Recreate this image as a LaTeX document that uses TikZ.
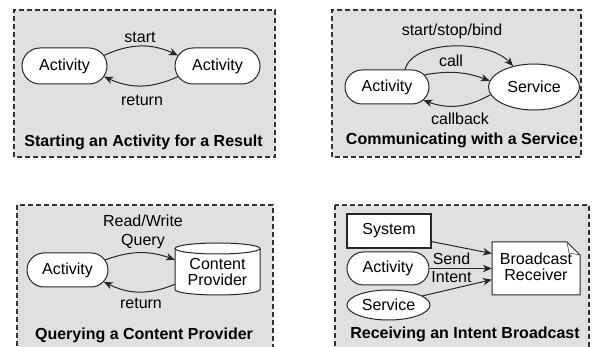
\documentclass[tikz,border=0pt]{standalone}
\usepackage{fontspec}
\setmainfont{Liberation Sans}
\usetikzlibrary{arrows.meta,shapes.misc,shapes.geometric}

\begin{document}
\begin{tikzpicture}[x=1pt, y=1pt,
	every node/.style={font=\fontsize{16}{16.5}\selectfont},
	panel/.style={draw=black!80, dash pattern=on 5pt off 3pt, line width=1.2pt, fill=black!12},
	actnode/.style={rounded rectangle, draw=black!85, line width=1pt, fill=white, inner sep=0pt},
	servnode/.style={ellipse, draw=black!85, line width=1pt, fill=white, inner sep=0pt},
	boxnode/.style={rectangle, draw=black!85, line width=1.15pt, fill=white, inner sep=0pt},
	lbl/.style={inner sep=0pt, align=center},
	paneltitle/.style={inner sep=0pt, font=\fontsize{16}{16.5}\selectfont\bfseries},
	flow/.style={draw=black!85, line width=1pt, -{Stealth[length=9pt,width=7.5pt]}}]
	\useasboundingbox (0,0) rectangle (593,347);
	\clip (0,0) rectangle (593,347);

% draw panel: activity for a result
	\draw[panel] (14,190) rectangle (275,337);
	\node[actnode, minimum width=85pt, minimum height=36pt] (resAct) at (64.5,281) {Activity};
	\node[actnode, minimum width=85pt, minimum height=36pt] (resTarget) at (217.5,281) {Activity};
	\draw[flow] (resAct.15) to[bend left=25] (resTarget.165);
	\draw[flow] (resTarget.195) to[bend left=25] (resAct.-15);
	\node[lbl] (startLbl) at (140,310) {start};
	\node[lbl] (returnLbl) at (142,247) {return};
	\node[paneltitle] (resTitle) at (143.5,205) {Starting an Activity for a Result};

% draw panel: service
	\draw[panel] (332,190) rectangle (581,337);
	\node[actnode, minimum width=84pt, minimum height=34pt] (svcAct) at (387,260) {Activity};
	\node[servnode, minimum width=91pt, minimum height=46pt] (svc) at (534,260) {Service};
	\draw[flow] ([xshift=18pt]svcAct.north) .. controls +(8,30) and +(-25,27) .. (svc.135);
	\draw[flow] (svcAct.18) to[bend left=15] (svc.172);
	\draw[flow] (svc.190) to[bend left=25] (svcAct.-20);
	\node[lbl] (bindLbl) at (452,316) {start/stop/bind};
	\node[lbl] (callLbl) at (451,286) {call};
	\node[lbl] (callbackLbl) at (460,228) {callback};
	\node[paneltitle] (svcTitle) at (462,207) {Communicating with a Service};

% draw panel: content provider
	\draw[panel] (17,142) rectangle (273,-10);
	\node[actnode, minimum width=81pt, minimum height=34pt] (cpAct) at (67.5,77) {Activity};
	\draw[line width=1pt, draw=black!85, fill=white] (175,98.5) -- (175,57.5)
		arc[start angle=180, end angle=360, x radius=42.5, y radius=5.5] -- (260,98.5)
		arc[start angle=0, end angle=180, x radius=42.5, y radius=5.5] -- cycle;
	\draw[line width=1pt, draw=black!85] (175,98.5) arc[start angle=180, end angle=360, x radius=42.5, y radius=5.5];
	\node[lbl, minimum width=85pt, minimum height=52pt] (cp) at (217.5,75) {Content\\[-0.5pt]Provider};
	\draw[flow] (cpAct.15) to[bend left=20] (cp.164);
	\draw[flow] (cp.196) to[bend left=25] (cpAct.-18);
	\node[lbl] (queryLbl) at (143,115) {Read/Write\\[2pt]Query};
	\node[lbl] (cpReturnLbl) at (141,44) {return};
	\node[paneltitle] (cpTitle) at (144,12) {Querying a Content Provider};

% draw panel: intent broadcast
	\draw[panel] (335,142) rectangle (589,-10);
	\node[boxnode, minimum width=84pt, minimum height=34pt] (sys) at (389,116) {System};
	\node[actnode, minimum width=82pt, minimum height=33pt] (intAct) at (388,78.5) {Activity};
	\node[servnode, minimum width=83pt, minimum height=30pt] (intSvc) at (388.5,42) {Service};
	\draw[line width=1pt, draw=black!85, fill=white] (492,52) -- (492,105) -- (567,105) -- (580,92) -- (580,52) -- cycle;
	\draw[line width=0.6pt, draw=black!70] (567,105) -- (569,94) -- (580,92);
	\node[lbl, minimum width=88pt, minimum height=53pt] (recv) at (536,80) {Broadcast\\Receiver};
	\draw[flow] (sys.-14) -- (recv.163);
	\draw[flow] (intAct.east) -- (intAct.east -| recv.west);
	\draw[flow] (intSvc.15) -- (recv.196);
	\node[lbl] (sendLbl) at (451.5,88) {Send};
	\node[lbl] (intentLbl) at (451.5,69.5) {Intent};
	\node[paneltitle] (intTitle) at (465,13) {Receiving an Intent Broadcast};
\end{tikzpicture}
\end{document}
